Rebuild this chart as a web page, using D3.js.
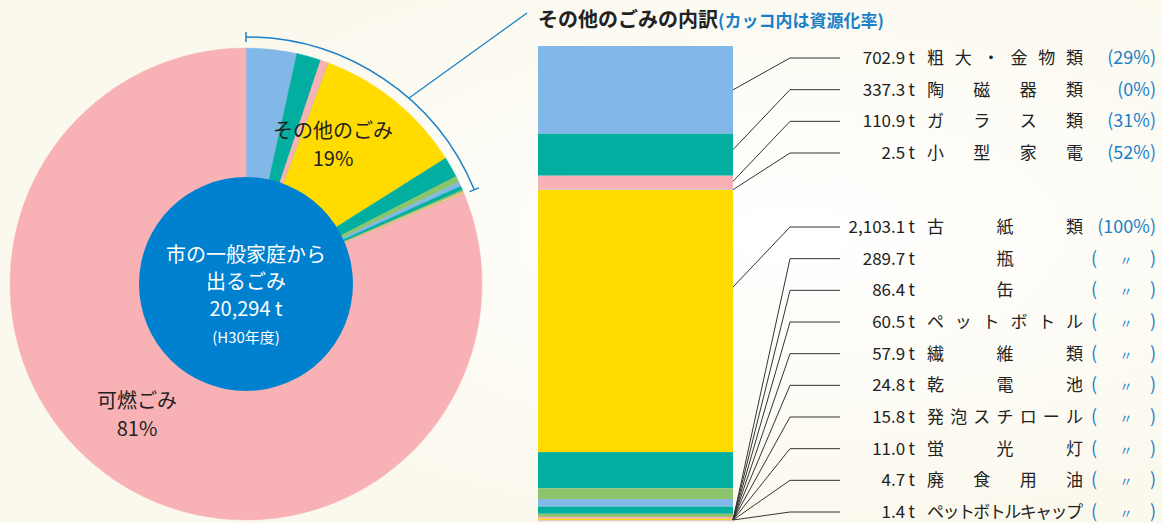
<!DOCTYPE html>
<html>
<head>
<meta charset="utf-8">
<script src="https://cdn.jsdelivr.net/npm/d3@7"></script>
<style>
  html, body { margin: 0; padding: 0; }
  body { width: 1162px; height: 523px; overflow: hidden; font-family: "Noto Sans CJK JP", "Noto Sans", sans-serif; }
</style>
</head>
<body>
<svg id="chart" width="1162" height="523"></svg>
<script>
// data
const totalTons = 20294;
const itemNames = ["粗大・金物類", "陶磁器類", "ガラス類", "小型家電", "古紙類", "瓶", "缶", "ペットボトル",
    "繊維類", "乾電池", "発泡スチロール", "蛍光灯", "廃食用油", "ペットボトルキャップ"];
const itemTons = [702.9, 337.3, 110.9, 2.5, 2103.1, 289.7, 86.4, 60.5, 57.9, 24.8, 15.8, 11.0, 4.7, 1.4];
const itemRates = ["29%", "0%", "31%", "52%", "100%", "〃", "〃", "〃", "〃", "〃", "〃", "〃", "〃", "〃"];
const pieLabels = [["その他のごみ", "19%"], ["可燃ごみ", "81%"]];
const centerLines = ["市の一般家庭から", "出るごみ", "20,294 t", "(H30年度)"];

const palette = ["#82b8e7", "#02ae9f", "#f8b2b5", "#82b8e7", "#ffdb00", "#02ae9f", "#8cc46c",
    "#82b8e7", "#02ae9f", "#8cc46c", "#f8b2b5", "#ffdb00", "#f8b2b5", "#82b8e7"];
const pink = "#f8b2b5", blue = "#1a80c8", ink = "#222";

const svg = d3.select("#chart");

// background
const defs = svg.append("defs");
const glow = defs.append("radialGradient").attr("id", "glow")
    .attr("cx", "68%").attr("cy", "45%").attr("r", "55%");
glow.append("stop").attr("offset", "0%").attr("stop-color", "#ffffff");
glow.append("stop").attr("offset", "100%").attr("stop-color", "#fbf9ee");
svg.append("rect").attr("width", 1162).attr("height", 523).attr("fill", "url(#glow)");

// ---- pie ----
const cx = 246, cy = 284, R = 236;
const otherSum = d3.sum(itemTons);
const pieData = itemTons.map((v, i) => ({ v, color: palette[i] }))
    .concat([{ v: totalTons - otherSum, color: pink }]);

const pie = d3.pie().sort(null).value(d => d.v);
const arc = d3.arc().innerRadius(0).outerRadius(R);
const pg = svg.append("g").attr("transform", `translate(${cx},${cy})`);

pg.selectAll("path.slice")
    .data(pie(pieData))
    .enter().append("path")
    .attr("class", "slice")
    .attr("d", arc)
    .attr("fill", d => d.data.color)
    .attr("stroke", d => d.data.color)
    .attr("stroke-width", 0.5);

pg.append("circle").attr("r", 107).attr("fill", "#0081cf");

const centerY = [-22, 5, 32, 59];
pg.selectAll("text.center")
    .data(centerLines)
    .enter().append("text")
    .attr("class", "center")
    .attr("x", 0)
    .attr("y", (d, i) => centerY[i])
    .attr("text-anchor", "middle")
    .attr("fill", "#fff")
    .style("font-size", (d, i) => i === 3 ? "15px" : "20px")
    .text(d => d);

// bracket arc over the "other" share
const otherEnd = 2 * Math.PI * otherSum / totalTons;
const bracketR = 247;
pg.append("path")
    .attr("d", d3.arc().innerRadius(bracketR).outerRadius(bracketR).startAngle(0).endAngle(otherEnd)())
    .attr("fill", "none").attr("stroke", blue).attr("stroke-width", 1.5);
[0, otherEnd].forEach(a => {
    pg.append("line")
        .attr("x1", Math.sin(a) * (bracketR - 5)).attr("y1", -Math.cos(a) * (bracketR - 5))
        .attr("x2", Math.sin(a) * (bracketR + 5)).attr("y2", -Math.cos(a) * (bracketR + 5))
        .attr("stroke", blue).attr("stroke-width", 1.5);
});
const linkA = otherEnd * 0.61;
pg.append("line")
    .attr("x1", Math.sin(linkA) * bracketR).attr("y1", -Math.cos(linkA) * bracketR)
    .attr("x2", 527 - cx).attr("y2", 13 - cy)
    .attr("stroke", blue).attr("stroke-width", 1.3);

// pie slice labels
const labelPos = [[333, 138], [137, 408]];
pieLabels.forEach((lines, k) => {
    lines.forEach((t, j) => {
        svg.append("text")
            .attr("x", labelPos[k][0]).attr("y", labelPos[k][1] + j * 28)
            .attr("text-anchor", "middle")
            .attr("fill", ink)
            .style("font-size", "20px")
            .text(t);
    });
});

// ---- stacked bar ----
const barX = 538, barW = 195, barTop = 46, barBottom = 521;
const y = d3.scaleLinear().domain([0, otherSum]).range([barTop, barBottom]);
const cum = d3.cumsum(itemTons);
const segs = itemTons.map((v, i) => ({ v, i, y0: cum[i] - v, y1: cum[i] }));

svg.selectAll("rect.seg")
    .data(segs)
    .enter().append("rect")
    .attr("class", "seg")
    .attr("x", barX)
    .attr("y", d => y(d.y0))
    .attr("width", barW)
    .attr("height", d => Math.max(0.3, y(d.y1) - y(d.y0)))
    .attr("fill", d => palette[d.i]);

svg.append("text")
    .attr("x", 538).attr("y", 27)
    .style("font-size", "20px").style("font-weight", "bold")
    .attr("fill", ink)
    .text("その他のごみの内訳")
    .append("tspan")
    .attr("fill", blue)
    .style("font-size", "17px")
    .text("(カッコ内は資源化率)");

// label rows
const rowY = d3.scaleLinear().domain([0, 3]).range([58, 153]);
const rowY2 = d3.scaleLinear().domain([4, 13]).range([227, 512]);
const rowOf = i => i < 4 ? rowY(i) : rowY2(i);

const elbowX = 790, lineEndX = 840, numRight = 915, nameL = 927, nameR = 1083, rateR = 1156;

const rows = svg.selectAll("g.row").data(segs).enter().append("g").attr("class", "row");

rows.append("polyline")
    .attr("points", d => {
        const ry = rowOf(d.i);
        let ay;
        if (d.i > 4) ay = barBottom - 1;
        else ay = Math.min((y(d.y0) + y(d.y1)) / 2, ry + 60);
        return `${barX + barW},${ay} ${elbowX},${ry} ${lineEndX},${ry}`;
    })
    .attr("fill", "none").attr("stroke", "#333").attr("stroke-width", 1);

rows.append("text")
    .attr("x", numRight).attr("y", d => rowOf(d.i) + 6)
    .attr("text-anchor", "end")
    .attr("fill", ink)
    .style("font-size", "17px")
    .text(d => d3.format(",.1f")(d.v) + "\u2009t");

rows.each(function(d) {
    const g = d3.select(this);
    const chars = Array.from(itemNames[d.i]);
    const n = chars.length, cw = 17;
    const step = n > 1 ? (nameR - nameL - cw) / (n - 1) : 0;
    g.selectAll("text.ch").data(chars).enter().append("text")
        .attr("class", "ch")
        .attr("x", (c, j) => n === 1 ? (nameL + nameR) / 2 : nameL + cw / 2 + j * step)
        .attr("y", rowOf(d.i) + 6)
        .attr("text-anchor", "middle")
        .attr("fill", ink)
        .style("font-size", "17px")
        .text(c => c);

    const rate = itemRates[d.i];
    if (rate === "〃") {
        const parts = [["(", 1091, "start"], ["〃", 1126, "middle"], [")", rateR, "end"]];
        parts.forEach(p => {
            g.append("text")
                .attr("x", p[1]).attr("y", rowOf(d.i) + 6)
                .attr("text-anchor", p[2])
                .attr("fill", blue)
                .style("font-size", p[0] === "〃" ? "13px" : "18px")
                .text(p[0]);
        });
    } else {
        g.append("text")
            .attr("x", rateR).attr("y", rowOf(d.i) + 6)
            .attr("text-anchor", "end")
            .attr("fill", blue)
            .style("font-size", "18px")
            .text(`(${rate})`);
    }
});
</script>
</body>
</html>
